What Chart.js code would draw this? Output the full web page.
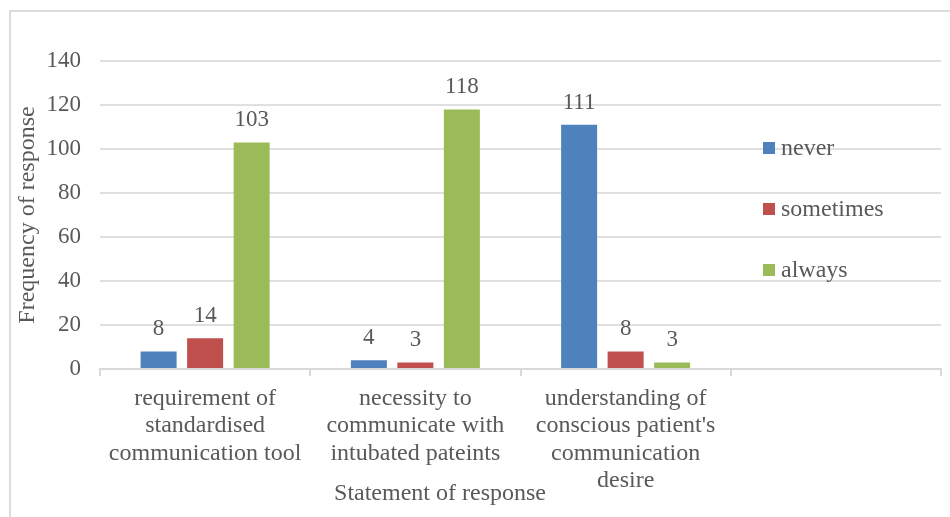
<!DOCTYPE html>
<html>
<head>
<meta charset="utf-8">
<script src="https://cdn.jsdelivr.net/npm/chart.js@4/dist/chart.umd.min.js"></script>
<style>
    html, body { margin: 0; padding: 0; background: #ffffff; overflow: hidden; }
    #frame { position: absolute; left: 9px; top: 10px; width: 1000px; height: 600px; border: 2px solid #dcdcdc; }
    #myChart { position: absolute; left: 0; top: 0; }
</style>
</head>
<body>
<div id="frame"></div>
<canvas id="myChart" width="950" height="517"></canvas>
<script>
const categories = [
    ['requirement of', 'standardised', 'communication tool'],
    ['necessity to', 'communicate with', 'intubated pateints'],
    ['understanding of', "conscious patient's", 'communication', 'desire'],
    ''
];
const seriesNames = ['never', 'sometimes', 'always'];
const neverValues = [8, 4, 111, null];
const sometimesValues = [14, 3, 8, null];
const alwaysValues = [103, 118, 3, null];
const seriesColors = ['#4F81BD', '#C0504D', '#9BBB59'];
const yMin = 0;
const yMax = 140;
const yStep = 20;
const yTitle = 'Frequency of response';
const xTitle = 'Statement of response';

const textColor = '#595959';
const serif = "'Liberation Serif', 'Times New Roman', serif";

// values written above each bar
const valueLabels = {
    id: 'valueLabels',
    afterDatasetsDraw(chart) {
        const ctx = chart.ctx;
        ctx.save();
        ctx.font = '23px ' + serif;
        ctx.fillStyle = textColor;
        ctx.textAlign = 'center';
        ctx.textBaseline = 'alphabetic';
        chart.data.datasets.forEach((ds, i) => {
            chart.getDatasetMeta(i).data.forEach((bar, j) => {
                if (ds.data[j] === null) return;
                ctx.fillText(String(ds.data[j]), bar.x, bar.y - 16);
            });
        });
        ctx.restore();
    }
};

// legend drawn over the right side of the plot, like the original
const overlayLegend = {
    id: 'overlayLegend',
    afterDraw(chart) {
        const ctx = chart.ctx;
        const area = chart.chartArea;
        ctx.save();
        ctx.font = '24px ' + serif;
        ctx.textBaseline = 'alphabetic';
        ctx.textAlign = 'left';
        chart.data.datasets.forEach((ds, i) => {
            const x = area.right - 178;
            const y = area.top + 87 + i * 61;
            ctx.fillStyle = ds.backgroundColor;
            ctx.fillRect(x, y - 6, 12, 12);
            ctx.fillStyle = textColor;
            ctx.fillText(ds.label, x + 18, y + 7);
        });
        // x axis title
        ctx.textAlign = 'center';
        ctx.fillText(xTitle, area.left + 340, 500);
        ctx.restore();
    }
};

const ctx = document.getElementById('myChart');
new Chart(ctx, {
    type: 'bar',
    data: {
        labels: categories,
        datasets: [
            { label: seriesNames[0], data: neverValues, backgroundColor: seriesColors[0] },
            { label: seriesNames[1], data: sometimesValues, backgroundColor: seriesColors[1] },
            { label: seriesNames[2], data: alwaysValues, backgroundColor: seriesColors[2] }
        ]
    },
    options: {
        responsive: false,
        animation: false,
        categoryPercentage: 0.6635,
        barPercentage: 0.774,
        layout: { padding: { top: 61, right: 9, left: 0, bottom: 0 } },
        plugins: {
            legend: { display: false },
            tooltip: { enabled: false }
        },
        scales: {
            x: {
                afterFit: (scale) => { scale.height = 148; },
                grid: {
                    drawOnChartArea: false,
                    drawTicks: true,
                    tickLength: 7,
                    color: '#d9d9d9',
                    lineWidth: 2
                },
                border: { display: true, color: '#d9d9d9', width: 2 },
                ticks: {
                    color: textColor,
                    font: { family: serif, size: 24, lineHeight: 1.14 },
                    padding: 9,
                    maxRotation: 0,
                    autoSkip: false
                }
            },
            y: {
                min: yMin,
                max: yMax,
                afterFit: (scale) => { scale.width = 100; },
                grid: { color: '#e0e0e0', lineWidth: 2, drawTicks: false },
                border: { display: false },
                ticks: {
                    stepSize: yStep,
                    color: textColor,
                    font: { family: serif, size: 23 },
                    padding: 19
                },
                title: {
                    display: true,
                    text: yTitle,
                    color: textColor,
                    font: { family: serif, size: 24, lineHeight: 1.15 },
                    padding: { top: 14, bottom: 0 }
                }
            }
        }
    },
    plugins: [valueLabels, overlayLegend]
});
</script>
</body>
</html>
